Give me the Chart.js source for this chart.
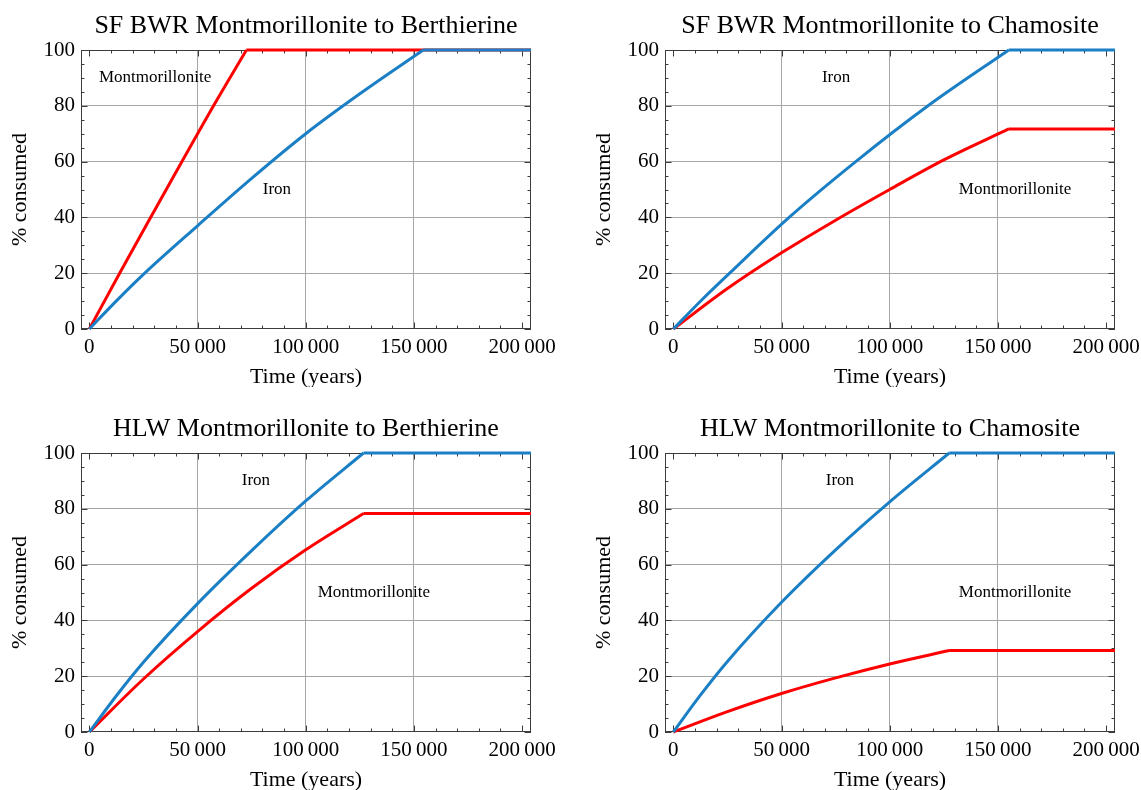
<!DOCTYPE html>
<html>
<head>
<meta charset="utf-8">
<title>Montmorillonite and iron consumption</title>
<script src="https://cdn.jsdelivr.net/npm/chart.js@4.4.1/dist/chart.umd.min.js"></script>
<style>
  html, body { margin: 0; padding: 0; background: #fff; }
  #wrap { position: relative; width: 1141px; height: 790px; overflow: hidden; }
  #wrap canvas { position: absolute; }
</style>
</head>
<body>
<div id="wrap">
  <canvas id="sfBer" width="570" height="387" style="left:0;top:0"></canvas>
  <canvas id="sfCha" width="557" height="387" style="left:584px;top:0"></canvas>
  <canvas id="hlwBer" width="570" height="387" style="left:0;top:403px"></canvas>
  <canvas id="hlwCha" width="557" height="387" style="left:584px;top:403px"></canvas>
</div>
<script>
// Axes
const X_MIN = -3850;
const X_MAX = 204100;
const xTicks = [0, 50000, 100000, 150000, 200000];
const yTicks = [0, 20, 40, 60, 80, 100];
const xGrid = [50000, 100000, 150000];
const yGrid = [20, 40, 60, 80];

// SF BWR, montmorillonite to berthierine
const sfBerIronYears = [0, 12500, 25000, 50000, 75000, 100000, 125000, 154300, 204100];
const sfBerIronPct   = [0, 10.1, 19.6, 37, 54, 70, 84.3, 100, 100];
const sfBerMontYears = [0, 14000, 28300, 42800, 57400, 72600, 204100];
const sfBerMontPct   = [0, 20, 40, 60, 80, 100, 100];

// SF BWR, montmorillonite to chamosite
const sfChaIronYears = [0, 13000, 26000, 53500, 84300, 117700, 155000, 204100];
const sfChaIronPct   = [0, 10.3, 20, 40, 60, 80, 100, 100];
const sfChaMontYears = [0, 25000, 50000, 75000, 100000, 125000, 155000, 204100];
const sfChaMontPct   = [0, 14.5, 27.3, 39, 50, 60.6, 71.7, 71.7];

// HLW, montmorillonite to berthierine
const hlwBerIronYears = [0, 12500, 25000, 50000, 75000, 100000, 126700, 204100];
const hlwBerIronPct   = [0, 13, 25, 46, 65, 82.8, 100, 100];
const hlwBerMontYears = [0, 25000, 50000, 75000, 100000, 126700, 204100];
const hlwBerMontPct   = [0, 19, 36, 51.5, 65.3, 78.3, 78.3];

// HLW, montmorillonite to chamosite
const hlwChaIronYears = [0, 12500, 25000, 50000, 75000, 100000, 127500, 204100];
const hlwChaIronPct   = [0, 13.2, 25.3, 46.5, 65.3, 82.5, 100, 100];
const hlwChaMontYears = [0, 25000, 50000, 75000, 100000, 127500, 204100];
const hlwChaMontPct   = [0, 7.3, 13.8, 19.4, 24.4, 29.2, 29.2];

// Curve labels: [text, years, percent]
const sfBerLabels  = [['Montmorillonite', 30400, 90], ['Iron', 86700, 50]];
const sfChaLabels  = [['Iron', 75200, 90], ['Montmorillonite', 157900, 50]];
const hlwBerLabels = [['Iron', 77000, 90], ['Montmorillonite', 131500, 50]];
const hlwChaLabels = [['Iron', 77000, 90], ['Montmorillonite', 157900, 50]];

const SERIF = "'Liberation Serif', 'Times New Roman', serif";
const BLUE = '#1a7fc4';
const RED = '#ff0000';
const GRID = '#a6a6a6';
const FRAME = '#3c3c3c';

function fmtYears(v) {
    return String(v).replace(/\B(?=(\d{3})+(?!\d))/g, '\u2009');
}

// Build {x, y} points; a gap is put where the curve reaches its plateau so the
// monotone spline keeps the corner sharp there.
function toPoints(xs, ys) {
    const pts = [];
    const last = ys[ys.length - 1];
    xs.forEach((x, i) => {
        pts.push({ x: x, y: ys[i] });
        if (i > 0 && i < xs.length - 1 && ys[i] === last && ys[i - 1] !== last) {
            pts.push({ x: x, y: null });
            pts.push({ x: x, y: ys[i] });
        }
    });
    return pts;
}

// Frame with inward major/minor ticks on all four sides
const framePlugin = {
    id: 'frame',
    beforeDatasetsDraw(chart) {
        const { ctx, chartArea: a, scales: { x, y } } = chart;
        ctx.save();
        ctx.strokeStyle = FRAME;
        ctx.lineWidth = 1;
        ctx.beginPath();
        for (let v = 0; v <= 200000; v += 10000) {
            const px = Math.round(x.getPixelForValue(v)) + 0.5;
            const len = v % 50000 === 0 ? 6.5 : 3.5;
            ctx.moveTo(px, a.bottom); ctx.lineTo(px, a.bottom - len);
            ctx.moveTo(px, a.top); ctx.lineTo(px, a.top + len);
        }
        for (let v = 0; v <= 100; v += 5) {
            const py = Math.round(y.getPixelForValue(v)) + 0.5;
            const len = v % 20 === 0 ? 6.5 : 3.5;
            ctx.moveTo(a.left, py); ctx.lineTo(a.left + len, py);
            ctx.moveTo(a.right, py); ctx.lineTo(a.right - len, py);
        }
        ctx.stroke();
        ctx.strokeRect(a.left + 0.5, a.top + 0.5, a.right - a.left - 1, a.bottom - a.top - 1);
        ctx.restore();
    }
};

// Text labels placed in data coordinates
const curveLabelsPlugin = {
    id: 'curveLabels',
    afterDatasetsDraw(chart, args, opts) {
        const { ctx, scales: { x, y } } = chart;
        ctx.save();
        ctx.font = '17px ' + SERIF;
        ctx.fillStyle = '#000';
        ctx.textAlign = 'center';
        ctx.textBaseline = 'middle';
        (opts.items || []).forEach(([text, xv, yv]) => {
            ctx.fillText(text, x.getPixelForValue(xv), y.getPixelForValue(yv));
        });
        ctx.restore();
    }
};

function lineSet(label, pts, color, order) {
    return {
        label: label,
        data: pts,
        borderColor: color,
        borderWidth: 3,
        pointRadius: 0,
        cubicInterpolationMode: 'monotone',
        spanGaps: false,
        clip: false,
        order: order
    };
}

function makePanel(id, title, ironX, ironY, montX, montY, labels, rightPad) {
    return new Chart(document.getElementById(id), {
        type: 'line',
        data: {
            datasets: [
                lineSet('Iron', toPoints(ironX, ironY), BLUE, 0),
                lineSet('Montmorillonite', toPoints(montX, montY), RED, 1)
            ]
        },
        options: {
            responsive: false,
            animation: false,
            layout: { padding: { left: 0, right: rightPad, top: 0, bottom: 0 } },
            plugins: {
                legend: { display: false },
                tooltip: { enabled: false },
                title: {
                    display: true,
                    fullSize: false,
                    text: title,
                    color: '#000',
                    font: { family: SERIF, size: 26, weight: 'normal', lineHeight: 1.2 },
                    padding: { top: 11, bottom: 7.8 }
                },
                curveLabels: { items: labels }
            },
            scales: {
                x: {
                    type: 'linear',
                    min: X_MIN,
                    max: X_MAX,
                    afterBuildTicks: s => { s.ticks = xTicks.map(v => ({ value: v })); },
                    afterFit: s => { s.height = 58; s.paddingLeft = 0; s.paddingRight = 0; },
                    border: { display: false },
                    grid: {
                        drawTicks: false,
                        lineWidth: 1,
                        color: c => (c.tick && xGrid.includes(c.tick.value)) ? GRID : 'rgba(0,0,0,0)'
                    },
                    ticks: {
                        color: '#000',
                        font: { family: SERIF, size: 21 },
                        padding: 6,
                        maxRotation: 0,
                        autoSkip: false,
                        callback: v => fmtYears(v)
                    },
                    title: {
                        display: true,
                        text: 'Time (years)',
                        color: '#000',
                        font: { family: SERIF, size: 22, lineHeight: 1 },
                        padding: { top: 0, bottom: -1 }
                    }
                },
                y: {
                    min: 0,
                    max: 100,
                    afterBuildTicks: s => { s.ticks = yTicks.map(v => ({ value: v })); },
                    afterFit: s => { s.width = 81; s.paddingTop = 0; s.paddingBottom = 0; },
                    border: { display: false },
                    grid: {
                        drawTicks: false,
                        lineWidth: 1,
                        color: c => (c.tick && yGrid.includes(c.tick.value)) ? GRID : 'rgba(0,0,0,0)'
                    },
                    ticks: {
                        color: '#000',
                        font: { family: SERIF, size: 21 },
                        padding: 6
                    },
                    title: {
                        display: true,
                        text: '% consumed',
                        color: '#000',
                        font: { family: SERIF, size: 22, lineHeight: 1 },
                        padding: { top: 9, bottom: 0 }
                    }
                }
            }
        },
        plugins: [framePlugin, curveLabelsPlugin]
    });
}

makePanel('sfBer', 'SF BWR Montmorillonite to Berthierine',
    sfBerIronYears, sfBerIronPct, sfBerMontYears, sfBerMontPct, sfBerLabels, 39);
makePanel('sfCha', 'SF BWR Montmorillonite to Chamosite',
    sfChaIronYears, sfChaIronPct, sfChaMontYears, sfChaMontPct, sfChaLabels, 26);
makePanel('hlwBer', 'HLW Montmorillonite to Berthierine',
    hlwBerIronYears, hlwBerIronPct, hlwBerMontYears, hlwBerMontPct, hlwBerLabels, 39);
makePanel('hlwCha', 'HLW Montmorillonite to Chamosite',
    hlwChaIronYears, hlwChaIronPct, hlwChaMontYears, hlwChaMontPct, hlwChaLabels, 26);
</script>
</body>
</html>
